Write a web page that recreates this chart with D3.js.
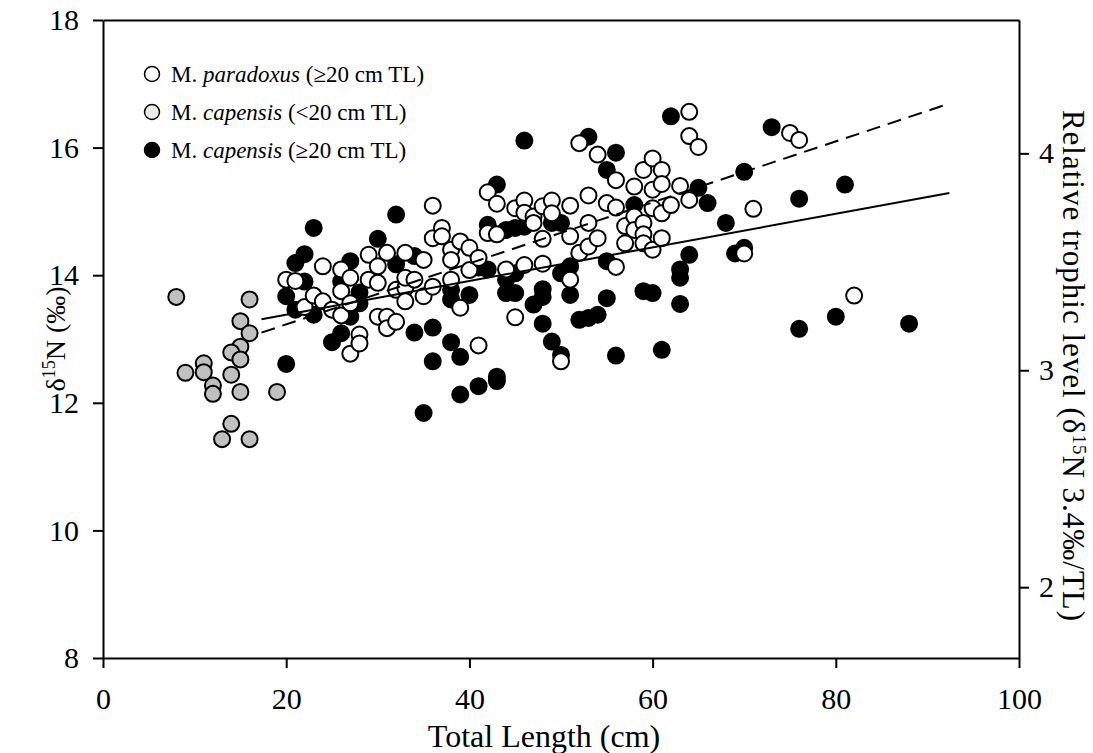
<!DOCTYPE html>
<html>
<head>
<meta charset="utf-8">
<script src="https://cdnjs.cloudflare.com/ajax/libs/d3/7.8.5/d3.min.js"></script>
<style>
    body { margin: 0; background: #fff; }
    text { font-family: "Liberation Serif", "Times New Roman", serif; fill: #000; }
    .tick text { font-size: 30px; }
    .axis path, .axis line { stroke: #000; stroke-width: 2px; }
</style>
</head>
<body>
<svg class="chart" width="1093" height="753"></svg>
<script>
// M. paradoxus (>=20 cm TL): [total length cm, d15N]
var paradoxusLarge = [
    [20, 13.93], [21, 13.91], [22, 13.50], [23, 13.68], [24, 13.59], [24, 14.14], [25, 13.46], [26, 14.09],
    [26, 13.75], [26, 13.37], [27, 13.96], [27, 13.56], [27, 12.77], [28, 13.07], [28, 12.93], [29, 14.32],
    [29, 13.93], [30, 14.14], [30, 13.88], [30, 13.35], [31, 14.35], [31, 13.35], [31, 13.17], [32, 13.27],
    [32, 13.77], [33, 13.80], [33, 13.59], [33, 13.96], [33, 14.35], [34, 13.93], [35, 14.24], [35, 13.67],
    [36, 13.82], [36, 14.58], [36, 15.09], [37, 14.74], [37, 14.61], [38, 14.40], [38, 14.24], [38, 13.93],
    [39, 14.53], [39, 13.49], [40, 14.43], [40, 14.08], [41, 14.27], [41, 12.90], [42, 15.30], [42, 14.66],
    [43, 15.12], [43, 14.64], [44, 14.09], [45, 15.05], [45, 13.34], [46, 15.17], [46, 14.98], [46, 14.16],
    [47, 14.92], [47, 14.82], [48, 15.08], [48, 14.57], [48, 14.18], [49, 15.17], [49, 14.97], [50, 12.65],
    [51, 15.09], [51, 14.61], [51, 13.93], [52, 16.07], [52, 14.35], [53, 15.25], [53, 14.82], [53, 14.45],
    [54, 15.89], [54, 14.58], [55, 15.13], [56, 15.49], [56, 15.06], [56, 14.13], [57, 14.77], [57, 14.50],
    [58, 15.39], [58, 14.92], [58, 14.71], [59, 15.65], [59, 14.82], [59, 14.64], [59, 14.50], [60, 15.83],
    [60, 15.34], [60, 15.05], [60, 14.40], [61, 15.65], [61, 15.43], [61, 14.97], [61, 14.58], [62, 15.10],
    [63, 15.40], [64, 15.18], [64, 16.56], [64, 16.18], [65, 16.01], [70, 14.34], [71, 15.04], [75, 16.23],
    [76, 16.12], [82, 13.68]
];

// M. capensis (<20 cm TL)
var capensisSmall = [
    [8, 13.66], [16, 13.62], [15, 13.28], [16, 13.09], [15, 12.88], [14, 12.79], [15, 12.68], [11, 12.62],
    [11, 12.48], [9, 12.47], [14, 12.44], [12, 12.27], [12, 12.14], [15, 12.17], [19, 12.17], [14, 11.67],
    [13, 11.43], [16, 11.43]
];

// M. capensis (>=20 cm TL)
var capensisLarge = [
    [20, 13.67], [20, 12.61], [21, 14.19], [21, 13.46], [22, 14.33], [22, 13.90], [23, 14.74], [23, 13.38],
    [25, 12.95], [26, 13.09], [26, 13.90], [27, 14.22], [27, 13.35], [28, 13.73], [28, 13.56], [30, 14.57],
    [32, 14.17], [32, 14.95], [34, 14.30], [34, 13.10], [36, 13.18], [36, 12.65], [35, 11.84], [38, 12.95],
    [38, 13.77], [38, 13.62], [39, 12.72], [39, 12.13], [40, 13.69], [41, 12.26], [41, 14.12], [42, 14.79],
    [42, 14.09], [43, 15.42], [43, 12.41], [43, 12.34], [44, 14.71], [44, 13.93], [44, 13.72], [45, 14.74],
    [45, 14.03], [45, 13.72], [46, 16.11], [46, 14.76], [47, 13.54], [48, 13.78], [48, 13.66], [48, 13.24],
    [49, 14.82], [49, 12.96], [50, 14.82], [50, 14.03], [50, 12.75], [51, 14.14], [51, 13.69], [52, 13.30],
    [53, 16.17], [53, 13.33], [54, 13.38], [55, 15.65], [55, 14.22], [55, 13.64], [56, 15.92], [56, 12.74],
    [58, 15.10], [59, 13.75], [60, 13.72], [61, 12.83], [62, 16.49], [63, 14.09], [63, 13.96], [63, 13.55],
    [64, 14.32], [65, 15.37], [66, 15.13], [68, 14.82], [69, 14.34], [70, 14.43], [70, 15.62], [73, 16.32],
    [76, 15.20], [76, 13.16], [80, 13.35], [81, 15.42], [88, 13.24]
];

// regression lines, end points
var fitSolid = [[17.3, 13.31], [92.4, 15.29]];
var fitDashed = [[17.3, 13.10], [92.4, 16.69]];

var xTicks = [0, 20, 40, 60, 80, 100];
var yTicks = [8, 10, 12, 14, 16, 18];
var tlTicks = [2, 3, 4];
var tlBaseN = 9.11;   // d15N at trophic level 2
var tlStep = 3.4;     // per trophic level

(function () {
    var svg = d3.select(".chart"),
        margin = { top: 20, right: 74, bottom: 95, left: 103 },
        width = +svg.attr("width") - margin.left - margin.right,
        height = +svg.attr("height") - margin.top - margin.bottom,
        g = svg.append("g").attr("transform", "translate(" + margin.left + "," + margin.top + ")");

    var x = d3.scaleLinear().range([0, width]).domain([0, 100]);
    var y = d3.scaleLinear().range([height, 0]).domain([8, 18]);
    var y2 = d3.scaleLinear().range([height, 0])
        .domain([2 + (8 - tlBaseN) / tlStep, 2 + (18 - tlBaseN) / tlStep]);

    g.append("g")
        .attr("class", "axis")
        .attr("transform", "translate(0," + height + ")")
        .call(d3.axisBottom(x).tickValues(xTicks).tickSize(10).tickSizeOuter(0).tickPadding(20));

    g.append("g")
        .attr("class", "axis")
        .call(d3.axisLeft(y).tickValues(yTicks).tickSize(10).tickSizeOuter(0).tickPadding(14));

    g.append("g")
        .attr("class", "axis")
        .attr("transform", "translate(" + width + ",0)")
        .call(d3.axisRight(y2).tickValues(tlTicks).tickFormat(d3.format("d")).tickSize(10).tickSizeOuter(0).tickPadding(10));

    g.append("g")
        .attr("class", "axis")
        .call(d3.axisTop(x).tickValues([]).tickSizeOuter(0));

    g.selectAll(".tick text").attr("font-family", "Liberation Serif");

    // axis titles
    g.append("text")
        .attr("x", 441)
        .attr("y", height + 89)
        .attr("text-anchor", "middle")
        .attr("font-size", "32px")
        .text("Total Length (cm)");

    var yTitle = g.append("text")
        .attr("transform", "translate(-38," + (height / 2) + ") rotate(-90)")
        .attr("text-anchor", "middle")
        .attr("font-size", "28px");
    yTitle.append("tspan").text("δ");
    yTitle.append("tspan").attr("font-size", "18px").attr("dy", "-10").text("15");
    yTitle.append("tspan").attr("dy", "10").text("N  (‰)");

    var tlTitle = g.append("text")
        .attr("transform", "translate(" + (width + 44) + ",346) rotate(90)")
        .attr("text-anchor", "middle")
        .attr("font-size", "31px")
        .attr("letter-spacing", "1px");
    tlTitle.append("tspan").text("Relative trophic level (δ");
    tlTitle.append("tspan").attr("font-size", "19px").attr("dy", "-10").text("15");
    tlTitle.append("tspan").attr("dy", "10").text("N 3.4‰/TL)");

    // points
    var groups = [
        { data: capensisSmall, fill: "#c0c0c0" },
        { data: capensisLarge, fill: "#000" },
        { data: paradoxusLarge, fill: "#fff" }
    ];

    groups.forEach(function (grp) {
        g.append("g")
            .selectAll("circle")
            .data(grp.data)
            .enter()
            .append("circle")
            .attr("cx", function (d) { return x(d[0]); })
            .attr("cy", function (d) { return y(d[1]); })
            .attr("r", 8)
            .attr("fill", grp.fill)
            .attr("stroke", "#000")
            .attr("stroke-width", 2);
    });

    var line = d3.line()
        .x(function (d) { return x(d[0]); })
        .y(function (d) { return y(d[1]); });

    g.append("path")
        .datum(fitSolid)
        .attr("fill", "none")
        .attr("stroke", "#000")
        .attr("stroke-width", 2)
        .attr("d", line);

    g.append("path")
        .datum(fitDashed)
        .attr("fill", "none")
        .attr("stroke", "#000")
        .attr("stroke-width", 2)
        .attr("stroke-dasharray", "14,8")
        .attr("d", line);

    // legend
    var legendItems = [
        { name: "paradoxus", note: " (≥20 cm TL)", fill: "#fff" },
        { name: "capensis", note: " (<20 cm TL)", fill: "#ebebe3" },
        { name: "capensis", note: " (≥20 cm TL)", fill: "#000" }
    ];

    var legend = svg.append("g");
    legendItems.forEach(function (item, i) {
        var ly = 74 + i * 38;
        legend.append("circle")
            .attr("cx", 152)
            .attr("cy", ly)
            .attr("r", 7.5)
            .attr("fill", item.fill)
            .attr("stroke", "#000")
            .attr("stroke-width", 1.5);
        var t = legend.append("text")
            .attr("x", 171)
            .attr("y", ly + 8)
            .attr("font-size", "23px");
        t.append("tspan").text("M. ");
        t.append("tspan").attr("font-style", "italic").text(item.name);
        t.append("tspan").text(item.note);
    });
})();
</script>
</body>
</html>
